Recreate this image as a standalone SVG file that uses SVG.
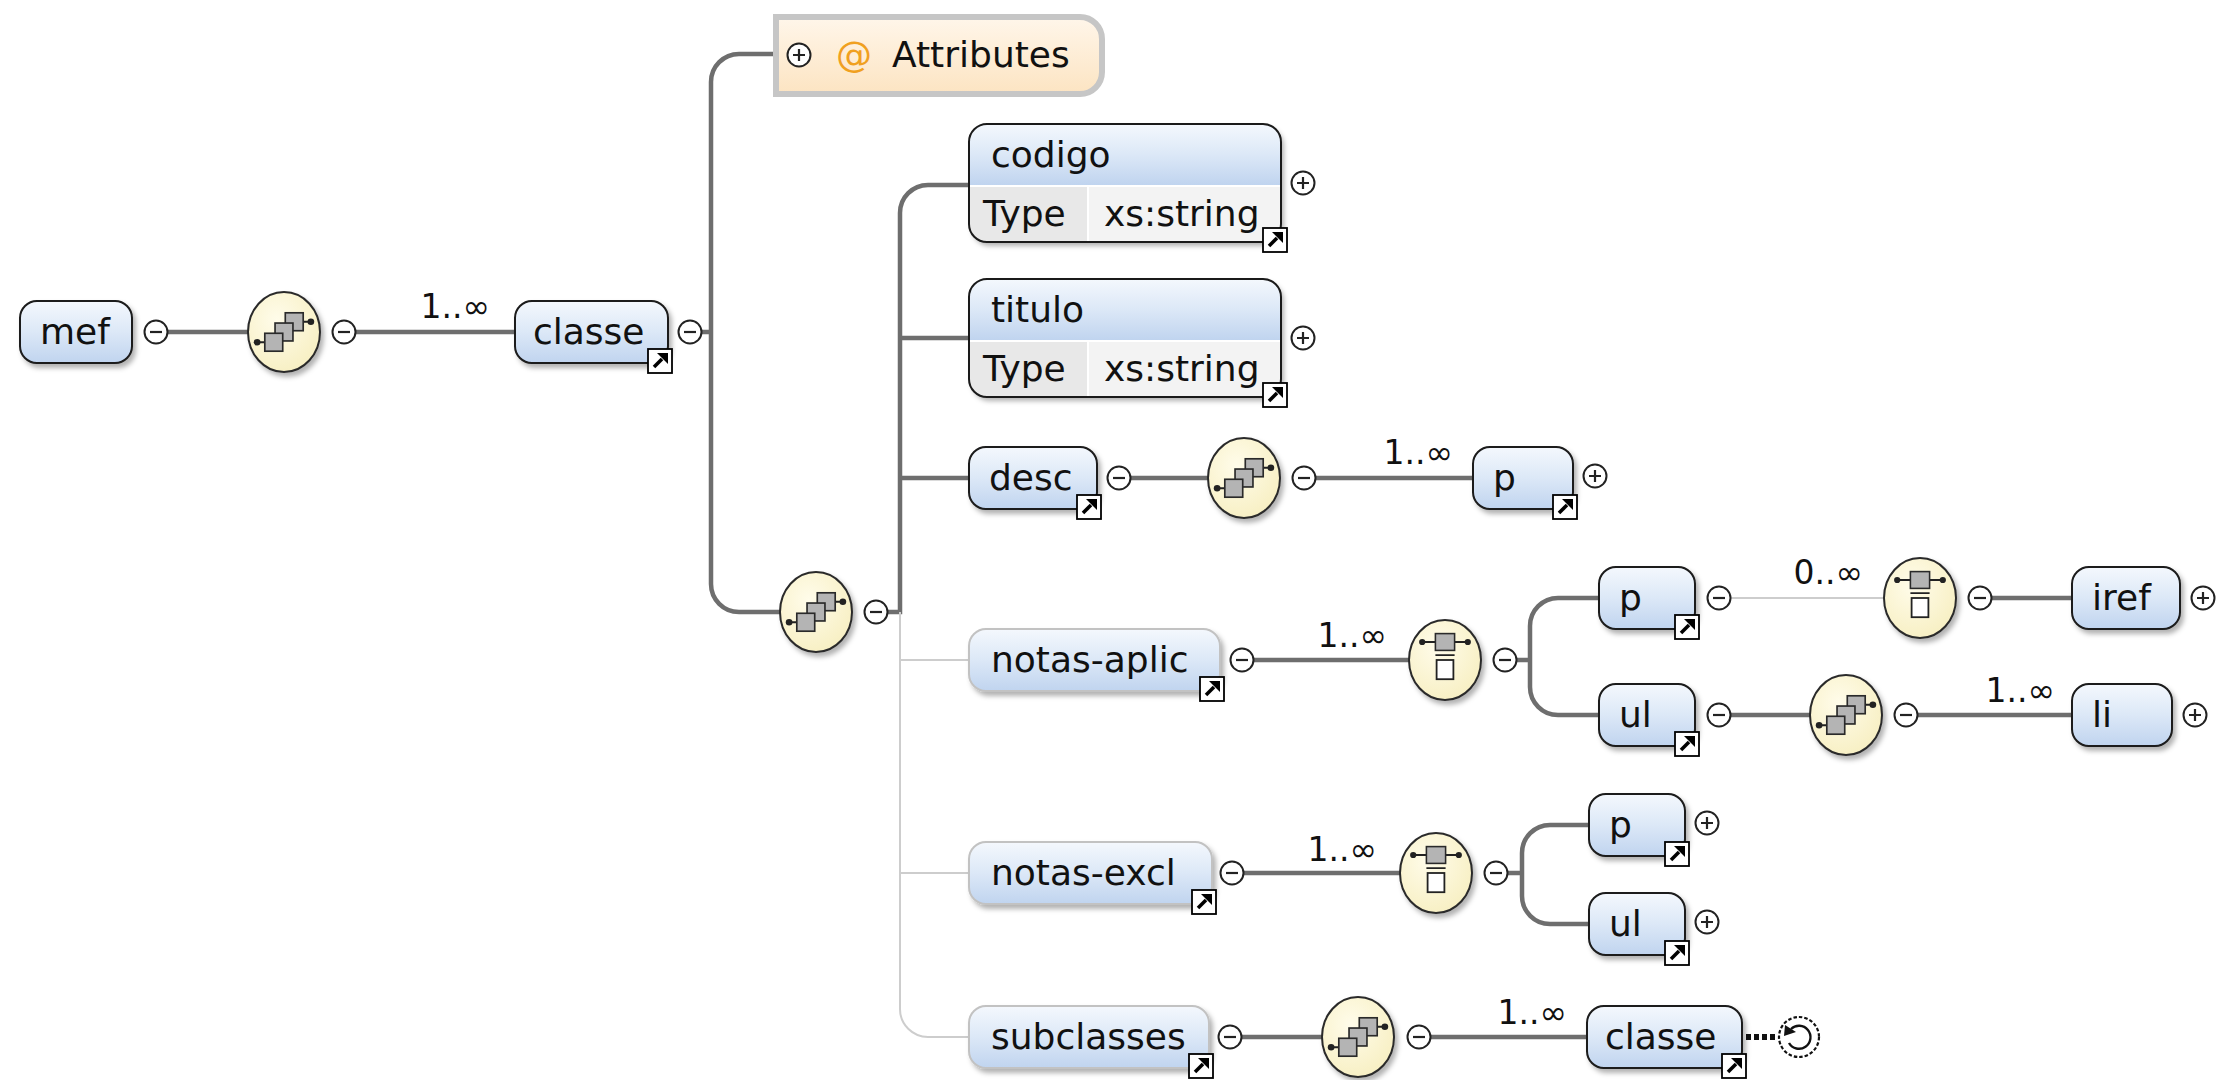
<svg xmlns="http://www.w3.org/2000/svg" xmlns:xlink="http://www.w3.org/1999/xlink" width="2230" height="1080" viewBox="0 0 2230 1080">
<defs>
<style>
.el{fill:url(#gEl);stroke:#1a1a1a;stroke-width:2;filter:url(#sh)}
.opt{fill:url(#gEl);stroke:#c2c2c2;stroke-width:2;filter:url(#sh)}
.t{font-family:"DejaVu Sans","Liberation Sans",sans-serif;font-size:36px;fill:#111}
.lbl{font-family:"DejaVu Sans","Liberation Sans",sans-serif;font-size:33px;fill:#111}
.ov{fill:url(#gOv);stroke:#2a2a2a;stroke-width:2;filter:url(#sh)}
.c{fill:none;stroke:#6e6e6e;stroke-width:4.5}
.ct{fill:none;stroke:#cdcdcd;stroke-width:2}
.sq{fill:#b4b4b4;stroke:#2a2a2a;stroke-width:1.3}
</style>
<linearGradient id="gEl" x1="0" y1="0" x2="0" y2="1">
<stop offset="0" stop-color="#f4f8fd"/>
<stop offset="0.5" stop-color="#dce8f7"/>
<stop offset="1" stop-color="#c0d4ef"/>
</linearGradient>
<linearGradient id="gAttr" x1="0" y1="0" x2="0" y2="1">
<stop offset="0" stop-color="#fff6ea"/>
<stop offset="1" stop-color="#fce4c2"/>
</linearGradient>
<radialGradient id="gOv" cx="0.4" cy="0.35" r="0.7">
<stop offset="0" stop-color="#fffcea"/>
<stop offset="1" stop-color="#f7efc2"/>
</radialGradient>
<filter id="sh" x="-20%" y="-20%" width="140%" height="150%">
<feDropShadow dx="3" dy="4" stdDeviation="2.5" flood-color="#000" flood-opacity="0.3"/>
</filter>
<g id="minus"><circle r="11.5" fill="#fff" stroke="#222" stroke-width="2"/><path d="M-6,0H6" stroke="#222" stroke-width="2.2"/></g>
<g id="plus"><circle r="11.5" fill="#fff" stroke="#222" stroke-width="2"/><path d="M-6,0H6M0,-6V6" stroke="#222" stroke-width="2.2"/></g>
<g id="link"><rect x="-12" y="-12" width="24" height="24" fill="#fff" stroke="#000" stroke-width="1.8"/><path d="M-6,6L2,-2" stroke="#000" stroke-width="3.6"/><path d="M8,-8V3L-3,-8Z" fill="#000"/></g>
<g id="seq"><g transform="scale(1.28)"><path d="M-21,8H-14M15,-8H21" stroke="#222" stroke-width="1.5"/><circle cx="-21" cy="8" r="2.6" fill="#222"/><circle cx="21" cy="-8" r="2.6" fill="#222"/><rect class="sq" x="1" y="-15" width="14" height="14"/><rect class="sq" x="-7" y="-7" width="14" height="14"/><rect class="sq" x="-15" y="1" width="14" height="14"/></g></g>
<g id="cho"><g transform="scale(1.2)"><path d="M-19,-15H19M-8,-4H8" stroke="#222" stroke-width="1.5"/><circle cx="-19" cy="-15" r="2.6" fill="#222"/><circle cx="19" cy="-15" r="2.6" fill="#222"/><rect class="sq" x="-8" y="-22" width="16" height="14"/><rect x="-7" y="0" width="14" height="16" fill="#fff" stroke="#222" stroke-width="1.5"/></g></g>
</defs>
<rect width="2230" height="1080" fill="#fff"/>

<g id="connectors">
<path class="c" d="M168,332H248"/>
<path class="c" d="M356,332H515"/>
<path class="c" d="M702,332H711M776,54H739A28,28 0 0 0 711,82V584A28,28 0 0 0 739,612H780"/>
<path class="c" d="M888,612H900V213A28,28 0 0 1 928,185H969M900,338H969M900,478H969"/>
<path class="ct" d="M900,612V1009A28,28 0 0 0 928,1037H969M900,660H969M900,873H969"/>
<path class="c" d="M1131,478H1208M1316,478H1473"/>
<path class="c" d="M1254,660H1409M1517,660H1530M1599,598H1558A28,28 0 0 0 1530,626V687A28,28 0 0 0 1558,715H1599"/>
<path class="ct" d="M1731,598H1884"/>
<path class="c" d="M1992,598H2072"/>
<path class="c" d="M1731,715H1810M1918,715H2072"/>
<path class="c" d="M1244,873H1400M1508,873H1522M1589,825H1550A28,28 0 0 0 1522,853V896A28,28 0 0 0 1550,924H1589"/>
<path class="c" d="M1242,1037H1322M1431,1037H1587"/>
<path d="M1746,1037H1778" stroke="#111" stroke-width="6" stroke-dasharray="5,3" fill="none"/>
<text class="lbl" x="490" y="318" text-anchor="end">1..∞</text>
<text class="lbl" x="1453" y="464" text-anchor="end">1..∞</text>
<text class="lbl" x="1387" y="647" text-anchor="end">1..∞</text>
<text class="lbl" x="1863" y="584" text-anchor="end">0..∞</text>
<text class="lbl" x="2055" y="702" text-anchor="end">1..∞</text>
<text class="lbl" x="1377" y="861" text-anchor="end">1..∞</text>
<text class="lbl" x="1567" y="1024" text-anchor="end">1..∞</text>
</g>

<g id="mef"><rect class="el" x="20" y="301" width="112" height="62" rx="17"/><text class="t" x="40" y="344">mef</text><use href="#minus" x="156" y="332"/></g>
<g id="seq1"><ellipse class="ov" cx="284" cy="332" rx="36" ry="40"/><use href="#seq" x="284" y="332"/><use href="#minus" x="344" y="332"/></g>
<g id="classe"><rect class="el" x="515" y="301" width="153" height="62" rx="17"/><text class="t" x="533" y="344">classe</text><use href="#link" x="660" y="361"/><use href="#minus" x="690" y="332"/></g>
<g id="attributes"><path d="M776,17H1080A22,22 0 0 1 1102,39V72A22,22 0 0 1 1080,94H776Z" fill="url(#gAttr)" stroke="#c6c6c6" stroke-width="6"/><use href="#plus" x="799" y="55"/><text class="t" x="836" y="67" style="fill:#f0a020">@</text><text class="t" x="892" y="67">Attributes</text></g>
<g id="seq2"><ellipse class="ov" cx="816" cy="612" rx="36" ry="40"/><use href="#seq" x="816" y="612"/><use href="#minus" x="876" y="612"/></g>

<g id="codigo">
<g filter="url(#sh)"><rect x="969" y="124" width="312" height="118" rx="18" fill="#f3f3f3"/></g>
<path d="M969,185V142A18,18 0 0 1 987,124H1263A18,18 0 0 1 1281,142V185Z" fill="url(#gEl)"/>
<path d="M969,185H1088V242H987A18,18 0 0 1 969,224Z" fill="#e8e8e8"/>
<path d="M1088,185V242M969,186H1281" stroke="#fff" stroke-width="2"/>
<rect x="969" y="124" width="312" height="118" rx="18" fill="none" stroke="#1a1a1a" stroke-width="2"/>
<text class="t" x="991" y="167">codigo</text><text class="t" x="983" y="226">Type</text><text class="t" x="1104" y="226">xs:string</text>
<use href="#link" x="1275" y="240"/><use href="#plus" x="1303" y="183"/>
</g>
<g id="titulo">
<g filter="url(#sh)"><rect x="969" y="279" width="312" height="118" rx="18" fill="#f3f3f3"/></g>
<path d="M969,340V297A18,18 0 0 1 987,279H1263A18,18 0 0 1 1281,297V340Z" fill="url(#gEl)"/>
<path d="M969,340H1088V397H987A18,18 0 0 1 969,379Z" fill="#e8e8e8"/>
<path d="M1088,340V397M969,341H1281" stroke="#fff" stroke-width="2"/>
<rect x="969" y="279" width="312" height="118" rx="18" fill="none" stroke="#1a1a1a" stroke-width="2"/>
<text class="t" x="991" y="322">titulo</text><text class="t" x="983" y="381">Type</text><text class="t" x="1104" y="381">xs:string</text>
<use href="#link" x="1275" y="395"/><use href="#plus" x="1303" y="338"/>
</g>

<g id="desc"><rect class="el" x="969" y="447" width="128" height="62" rx="17"/><text class="t" x="989" y="490">desc</text><use href="#link" x="1089" y="507"/><use href="#minus" x="1119" y="478"/></g>
<g id="seq3"><ellipse class="ov" cx="1244" cy="478" rx="36" ry="40"/><use href="#seq" x="1244" y="478"/><use href="#minus" x="1304" y="478"/></g>
<g id="desc-p"><rect class="el" x="1473" y="447" width="100" height="62" rx="17"/><text class="t" x="1493" y="490">p</text><use href="#link" x="1565" y="507"/><use href="#plus" x="1595" y="476"/></g>

<g id="notas-aplic"><rect class="opt" x="969" y="629" width="251" height="62" rx="17"/><text class="t" x="991" y="672">notas-aplic</text><use href="#link" x="1212" y="689"/><use href="#minus" x="1242" y="660"/></g>
<g id="choice1"><ellipse class="ov" cx="1445" cy="660" rx="36" ry="40"/><use href="#cho" x="1445" y="660"/><use href="#minus" x="1505" y="660"/></g>
<g id="aplic-p"><rect class="el" x="1599" y="567" width="96" height="62" rx="17"/><text class="t" x="1619" y="610">p</text><use href="#link" x="1687" y="627"/><use href="#minus" x="1719" y="598"/></g>
<g id="choice2"><ellipse class="ov" cx="1920" cy="598" rx="36" ry="40"/><use href="#cho" x="1920" y="598"/><use href="#minus" x="1980" y="598"/></g>
<g id="iref"><rect class="el" x="2072" y="567" width="108" height="62" rx="17"/><text class="t" x="2092" y="610">iref</text><use href="#plus" x="2203" y="598"/></g>
<g id="aplic-ul"><rect class="el" x="1599" y="684" width="96" height="62" rx="17"/><text class="t" x="1619" y="727">ul</text><use href="#link" x="1687" y="744"/><use href="#minus" x="1719" y="715"/></g>
<g id="seq4"><ellipse class="ov" cx="1846" cy="715" rx="36" ry="40"/><use href="#seq" x="1846" y="715"/><use href="#minus" x="1906" y="715"/></g>
<g id="li"><rect class="el" x="2072" y="684" width="100" height="62" rx="17"/><text class="t" x="2092" y="727">li</text><use href="#plus" x="2195" y="715"/></g>

<g id="notas-excl"><rect class="opt" x="969" y="842" width="243" height="62" rx="17"/><text class="t" x="991" y="885">notas-excl</text><use href="#link" x="1204" y="902"/><use href="#minus" x="1232" y="873"/></g>
<g id="choice3"><ellipse class="ov" cx="1436" cy="873" rx="36" ry="40"/><use href="#cho" x="1436" y="873"/><use href="#minus" x="1496" y="873"/></g>
<g id="excl-p"><rect class="el" x="1589" y="794" width="96" height="62" rx="17"/><text class="t" x="1609" y="837">p</text><use href="#link" x="1677" y="854"/><use href="#plus" x="1707" y="823"/></g>
<g id="excl-ul"><rect class="el" x="1589" y="893" width="96" height="62" rx="17"/><text class="t" x="1609" y="936">ul</text><use href="#link" x="1677" y="953"/><use href="#plus" x="1707" y="922"/></g>

<g id="subclasses"><rect class="opt" x="969" y="1006" width="240" height="62" rx="17"/><text class="t" x="991" y="1049">subclasses</text><use href="#link" x="1201" y="1066"/><use href="#minus" x="1230" y="1037"/></g>
<g id="seq5"><ellipse class="ov" cx="1358" cy="1037" rx="36" ry="40"/><use href="#seq" x="1358" y="1037"/><use href="#minus" x="1419" y="1037"/></g>
<g id="sub-classe"><rect class="el" x="1587" y="1006" width="155" height="62" rx="17"/><text class="t" x="1605" y="1049">classe</text><use href="#link" x="1734" y="1066"/></g>
<g id="recursion"><circle cx="1799" cy="1037" r="20" fill="#fff" stroke="#111" stroke-width="2.2" stroke-dasharray="3.5,2"/><path d="M1791,1029A11.5,11.5 0 1 1 1789,1043" fill="none" stroke="#111" stroke-width="2.4"/><path d="M1785,1025L1796,1032L1784,1036Z" fill="#111"/></g>
</svg>
